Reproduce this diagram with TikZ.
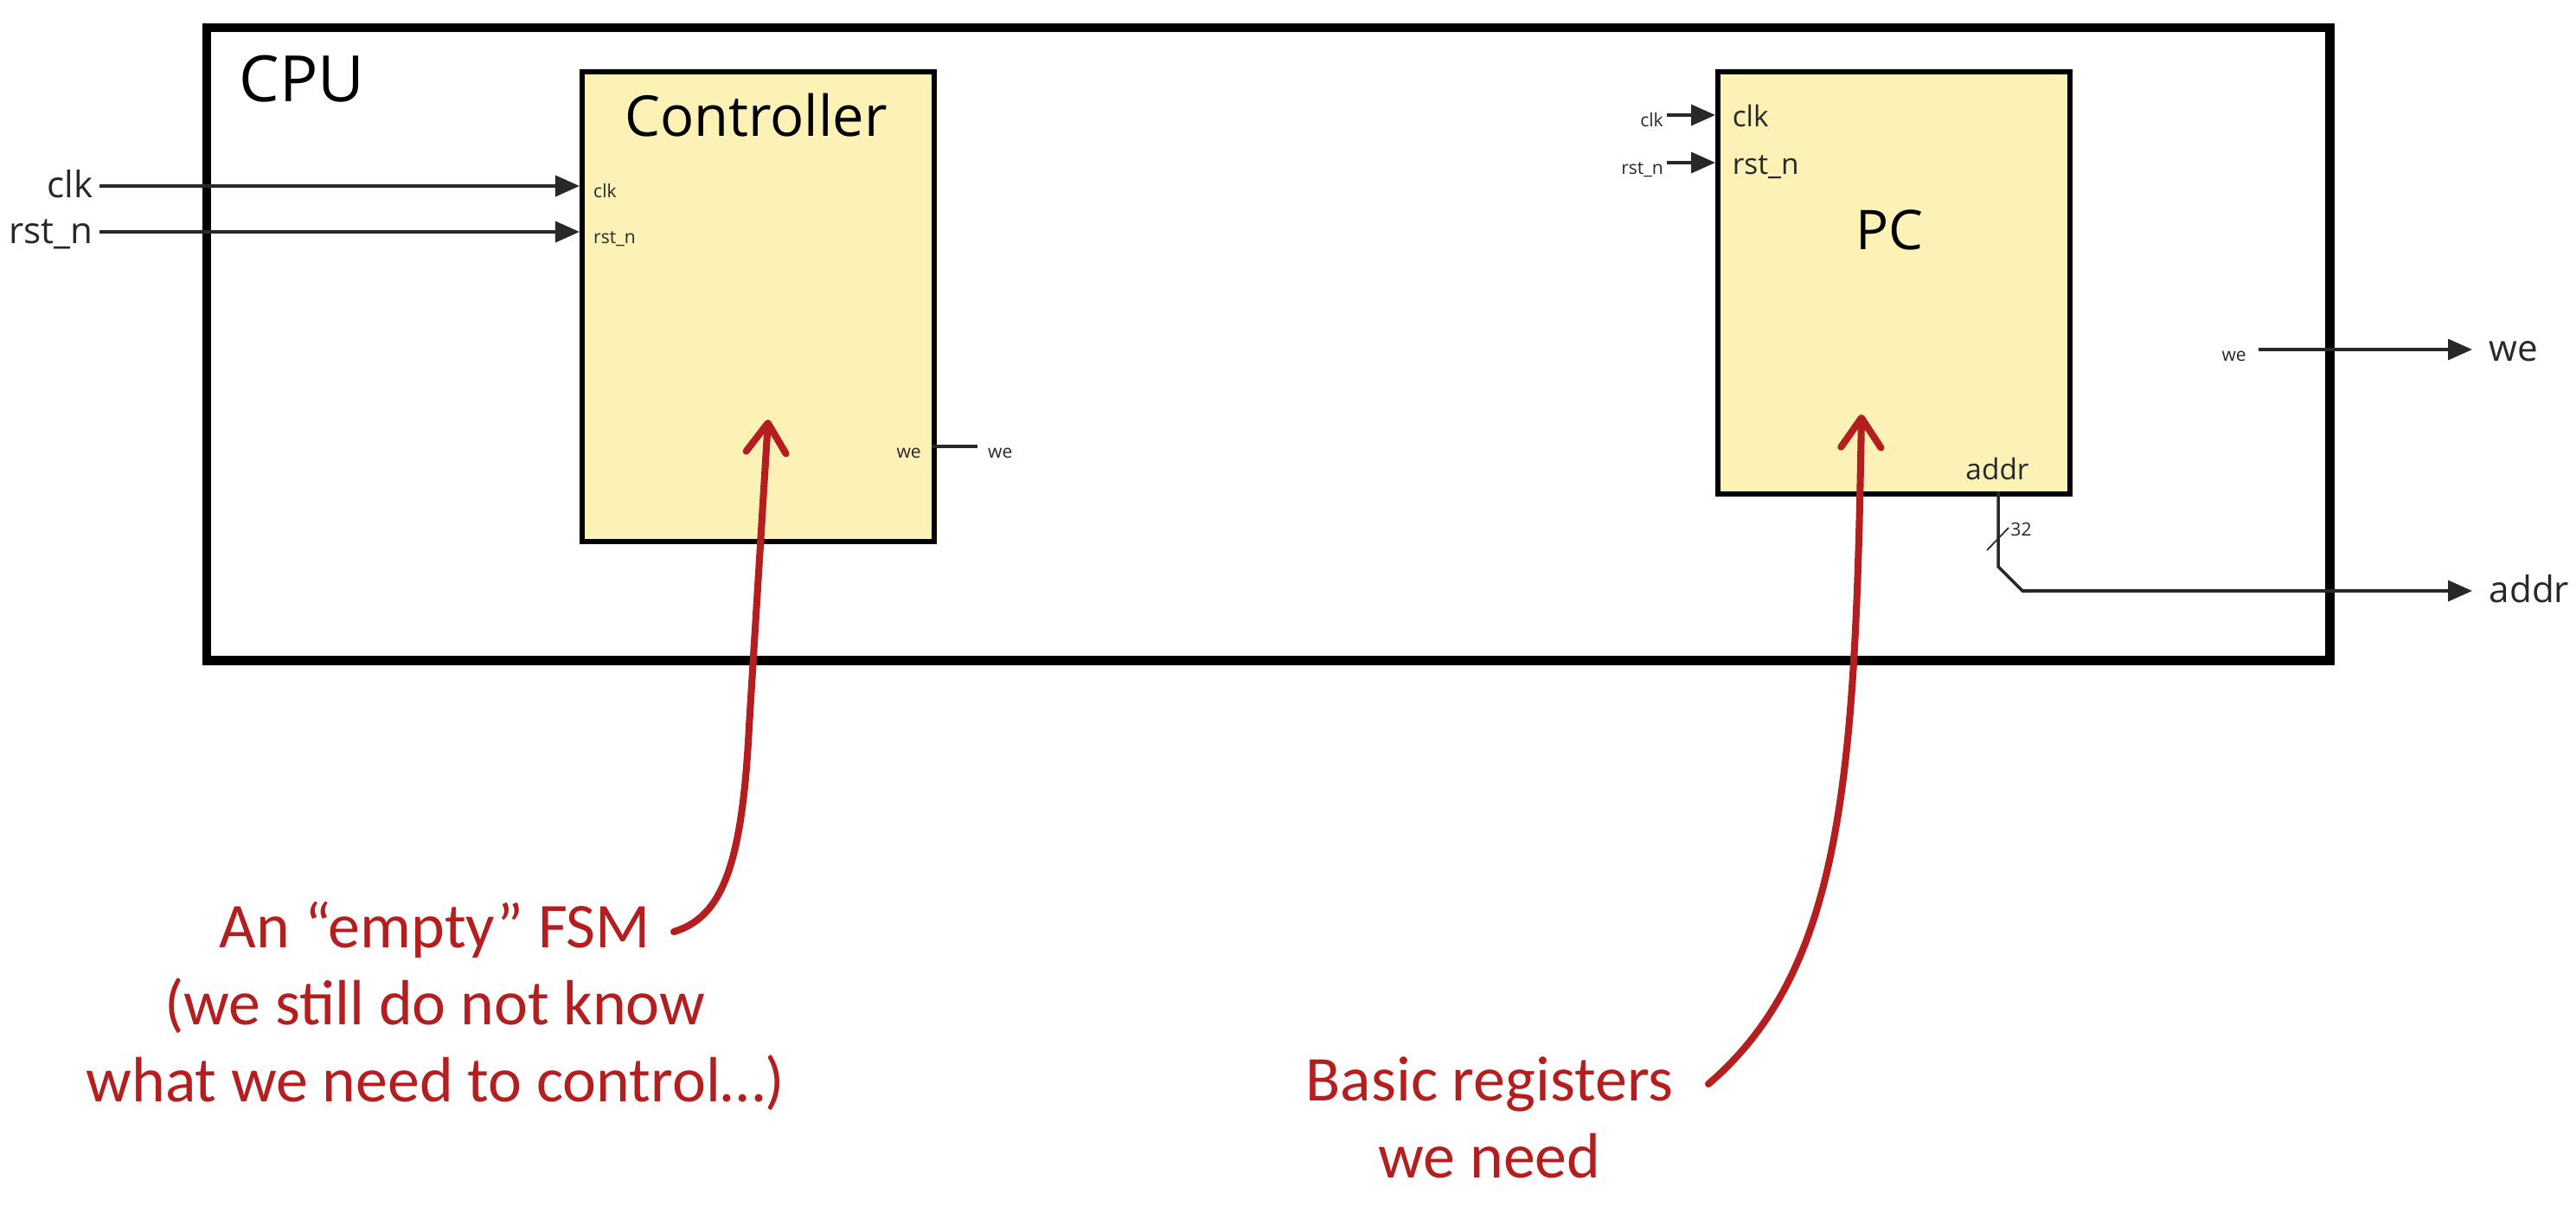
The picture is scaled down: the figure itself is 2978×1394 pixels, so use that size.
\documentclass[tikz,border=0pt]{standalone}
\usepackage{fontspec}
\setmainfont{Open Sans}
\newfontfamily\notefont{Carlito}
\usetikzlibrary{arrows.meta,positioning}

\definecolor{boxfill}{RGB}{253,242,182}
\definecolor{wire}{RGB}{40,40,40}
\definecolor{notered}{RGB}{180,30,30}

\tikzset{
  block/.style={draw=black, line width=1.6pt, fill=boxfill, anchor=north west, inner sep=0pt},
  port/.style={font=\fontsize{6}{7}\selectfont, text=wire, inner sep=1pt, text height=0.76em, text depth=0pt},
  pcport/.style={port, font=\fontsize{9.5}{11}\selectfont},
  extlbl/.style={font=\fontsize{12}{14}\selectfont, text=wire, inner sep=2pt, text height=0.76em, text depth=0pt},
  sig/.style={draw=wire, line width=1pt, -{Triangle[length=2.8mm,width=2.4mm]}},
  bus/.style={draw=wire, line width=1pt},
  note/.style={font=\notefont\fontsize{21}{25.3}\selectfont, text=notered, align=center},
  pointer/.style={draw=notered, line width=2.3pt, line cap=round, -{Straight Barb[length=3.4mm,width=4.6mm,round]}},
}

\begin{document}
\begin{tikzpicture}[x=0.01cm, y=-0.01cm]
  \useasboundingbox (0,0) rectangle (2978,1394); % 余白込みの大きさ

  \node (cpu) [draw=black, line width=2.9pt, minimum width=24.53cm, minimum height=7.31cm, anchor=north west, inner sep=0pt] at (234,27) {}; % CPUの枠
  \node (cpulbl) [font=\fontsize{21}{25}\selectfont, anchor=west, inner sep=0pt] at (276,91) {CPU};

  % Controller
  \node (ctrl) [block, minimum width=4.07cm, minimum height=5.43cm] at (670,80) {};
  \node (ctrllbl) [font=\fontsize{18.5}{22}\selectfont] at (874,133) {Controller};
  \coordinate (cclk) at (670,215);
  \coordinate (crst) at (670,268);
  \coordinate (cwe) at (1077,516);
  \node [port, right=0.12cm of cclk] {clk};
  \node [port, right=0.12cm of crst] {rst\_n};
  \node [port, left=0.08cm of cwe] {we};
  \node (clkin) [extlbl, anchor=east] at (115,215) {clk}; % 外部入力
  \node (rstin) [extlbl, anchor=east] at (115,268) {rst\_n};
  \draw[sig] (clkin.east) -- (cclk);
  \draw[sig] (rstin.east) -- (crst);
  \coordinate (cweend) at (1130,516);
  \draw[bus] (cwe) -- (cweend);
  \node [port, right=0.08cm of cweend] {we};

  % PC
  \node (pc) [block, minimum width=4.07cm, minimum height=4.88cm] at (1983,80) {};
  \node (pclbl) [font=\fontsize{18}{22}\selectfont] at (2184,266) {PC};
  \coordinate (pclk) at (1983,133);
  \coordinate (prst) at (1983,188);
  \node [pcport, right=0.155cm of pclk] {clk};
  \node [pcport, right=0.155cm of prst] {rst\_n};
  \node (pclkin) [port, anchor=east] at (1927,133) {clk};
  \node (prstin) [port, anchor=east] at (1927,188) {rst\_n};
  \draw[sig] (pclkin.east) -- (pclk);
  \draw[sig] (prstin.east) -- (prst);
  \node [pcport] at (2309,541) {addr};

  % 出力
  \coordinate (paddr) at (2310,568);
  \coordinate (addrout) at (2858,683);
  \draw[sig] (paddr) -- (2310,655) -- (2338,683) -- (addrout);
  \draw[draw=wire, line width=0.5pt] (2297,636) -- (2322,610); % バス幅
  \node [port, anchor=west, inner sep=0.5pt] at (2322,606) {32};
  \node [extlbl, right=0.12cm of addrout] {addr};
  \coordinate (wesrc) at (2611,404);
  \coordinate (weout) at (2858,404);
  \node [port, left=0.1cm of wesrc] {we};
  \draw[sig] (wesrc) -- (weout);
  \node [extlbl, right=0.12cm of weout] {we};

  % 注釈
  \node (fsmnote) [note] at (503,1163) {An “empty” FSM\\(we still do not know\\what we need to control…)};
  \node (regnote) [note] at (1722,1292) {Basic registers\\we need};
  \coordinate (fsmtail) at (779,1077);
  \coordinate (ctrltip) at (888,485);
  \coordinate (regtail) at (1975,1253);
  \coordinate (pctip) at (2152,479);
  \draw[pointer] (fsmtail) .. controls (835,1060) and (858,1000) .. (866,840) -- (ctrltip);
  \draw[pointer] (regtail) .. controls (2130,1120) and (2145,900) .. (pctip);
\end{tikzpicture}
\end{document}
